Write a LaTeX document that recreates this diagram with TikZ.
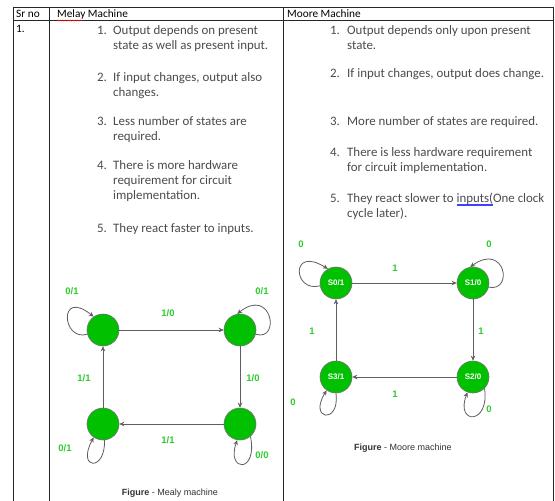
\documentclass[tikz,border=0pt]{standalone}
\usepackage{fontspec}
\setmainfont{Carlito}
\newfontfamily\arialf{Liberation Sans}
\usetikzlibrary{arrows.meta,decorations.pathmorphing}
\definecolor{lbl}{RGB}{45,205,45}
\definecolor{stfill}{RGB}{0,192,0}
\definecolor{edgec}{RGB}{95,95,95}
\definecolor{txt}{RGB}{75,75,75}
\newcommand\bluul[1]{\setbox0\hbox{#1}\rlap{\color{blue!75}\rule[-2.2pt]{\wd0}{0.45pt}}\rlap{\color{blue!75}\rule[-3.7pt]{\wd0}{0.45pt}}\box0}
\begin{document}
\begin{tikzpicture}[x=1pt,y=-1pt,
  tline/.style={draw=black!85, line width=0.8pt},
  litem/.style={anchor=base west, inner sep=0, font=\fontsize{12.9}{14}\selectfont, text=txt},
  hdr/.style={anchor=base west, inner sep=0, font=\fontsize{11.3}{13}\selectfont, text=black},
  state/.style={circle, fill=stfill, draw=black!55, line width=0.6pt, minimum size=32pt, inner sep=0, font=\arialf\bfseries\fontsize{8}{9}\selectfont, text=white},
  elbl/.style={font=\arialf\bfseries\fontsize{9.5}{11}\selectfont, text=lbl, inner sep=0},
  edgeline/.style={draw=edgec, line width=0.8pt, -{Stealth[length=5pt,width=4.5pt]}},
  capt/.style={font=\arialf\fontsize{9}{11}\selectfont, text=black!80, inner sep=0}]
\useasboundingbox (0,0) rectangle (555,501);
\fill[white] (0,0) rectangle (555,501);
% table
\draw[tline] (13,501) -- (13,7) -- (553,7) -- (553,501);
\draw[tline] (13,20) -- (553,20);
\draw[tline] (49,7) -- (49,501);
\draw[tline] (283,7) -- (283,501);
% headers
\node[hdr] (h0) at (16,17) {Sr no};
\node[hdr] (h1) at (57,17) {Melay Machine};
\node[hdr] (h2) at (287,17) {Moore Machine};
\node[hdr] (r1) at (16,32) {1.};
\draw[red, line width=0.5pt, decorate, decoration={snake, amplitude=0.6pt, segment length=2.5pt}] (57,20.5) -- (82,20.5);
% Mealy list
\node[litem] (mn1) at (97,34.5) {1.};
\node[litem] (mt1a) at (113,34.5) {Output depends on present};
\node[litem] (mt1b) at (113,49) {state as well as present input.};
\node[litem] (mn2) at (97,81.5) {2.};
\node[litem] (mt2a) at (113,81.5) {If input changes, output also};
\node[litem] (mt2b) at (113,96.5) {changes.};
\node[litem] (mn3) at (97,125.5) {3.};
\node[litem] (mt3a) at (113,125.5) {Less number of states are};
\node[litem] (mt3b) at (113,140.5) {required.};
\node[litem] (mn4) at (97,169.5) {4.};
\node[litem] (mt4a) at (113,169.5) {There is more hardware};
\node[litem] (mt4b) at (113,184.5) {requirement for circuit};
\node[litem] (mt4c) at (113,199.5) {implementation.};
\node[litem] (mn5) at (97,232) {5.};
\node[litem] (mt5a) at (113,232) {They react faster to inputs.};
% Moore list
\node[litem] (on1) at (330,34) {1.};
\node[litem] (ot1a) at (347,34) {Output depends only upon present};
\node[litem] (ot1b) at (347,49) {state.};
\node[litem] (on2) at (330,77.5) {2.};
\node[litem] (ot2a) at (347,77.5) {If input changes, output does change.};
\node[litem] (on3) at (330,125) {3.};
\node[litem] (ot3a) at (347,125) {More number of states are required.};
\node[litem] (on4) at (330,156) {4.};
\node[litem] (ot4a) at (347,156) {There is less hardware requirement};
\node[litem] (ot4b) at (347,171) {for circuit implementation.};
\node[litem] (on5) at (330,202) {5.};
\node[litem] (ot5a) at (347,202) {They react slower to \bluul{inputs(}One clock};
\node[litem] (ot5b) at (347,217) {cycle later).};
% Mealy diagram
\node[state] (A) at (103,330) {};
\node[state] (B) at (240,330) {};
\node[state] (C) at (103,424) {};
\node[state] (D) at (240,424) {};
\draw[edgeline] (A) -- (B);
\draw[edgeline] (B) -- (D);
\draw[edgeline] (D) -- (C);
\draw[edgeline] (C) -- (A);
\draw[edgeline] (A.195) .. controls (62,342) and (58,288) .. (A.125);
\draw[edgeline] (B.-15) .. controls (281,342) and (272,286) .. (B.100);
\draw[edgeline] (C.-85) .. controls (106,472) and (76,470) .. (C.235);
\draw[edgeline] (D.-50) .. controls (258,474) and (226,472) .. (D.-100);
\node[elbl] (la1) at (72,291) {0/1};
\node[elbl] (la2) at (262,291) {0/1};
\node[elbl] (la3) at (168,313) {1/0};
\node[elbl] (la4) at (84,378) {1/1};
\node[elbl] (la5) at (253,378) {1/0};
\node[elbl] (la6) at (168,440) {1/1};
\node[elbl] (la7) at (65,448) {0/1};
\node[elbl] (la8) at (262,455) {0/0};
\node[capt] (cap1) at (170,493) {\textbf{Figure} - Mealy machine};
% Moore diagram
\node[state] (S0) at (336,283) {S0/1};
\node[state] (S1) at (473,283) {S1/0};
\node[state] (S3) at (336,377) {S3/1};
\node[state] (S2) at (473,377) {S2/0};
\draw[edgeline] (S0) -- (S1);
\draw[edgeline] (S1) -- (S2);
\draw[edgeline] (S2) -- (S3);
\draw[edgeline] (S3) -- (S0);
\draw[edgeline] (S0.190) .. controls (293,293) and (290,245) .. (S0.120);
\draw[edgeline] (S1.-15) .. controls (514,292) and (505,242) .. (S1.100);
\draw[edgeline] (S3.-90) .. controls (340,425) and (308,420) .. (S3.235);
\draw[edgeline] (S2.-45) .. controls (490,425) and (455,425) .. (S2.-110);
\node[elbl] (lb1) at (301,244) {0};
\node[elbl] (lb2) at (489,244) {0};
\node[elbl] (lb3) at (395,268) {1};
\node[elbl] (lb4) at (312,331) {1};
\node[elbl] (lb5) at (481,331) {1};
\node[elbl] (lb6) at (395,394) {1};
\node[elbl] (lb7) at (293,402) {0};
\node[elbl] (lb8) at (489,409) {0};
\node[capt] (cap2) at (403,448) {\textbf{Figure} - Moore machine};
\end{tikzpicture}
\end{document}
